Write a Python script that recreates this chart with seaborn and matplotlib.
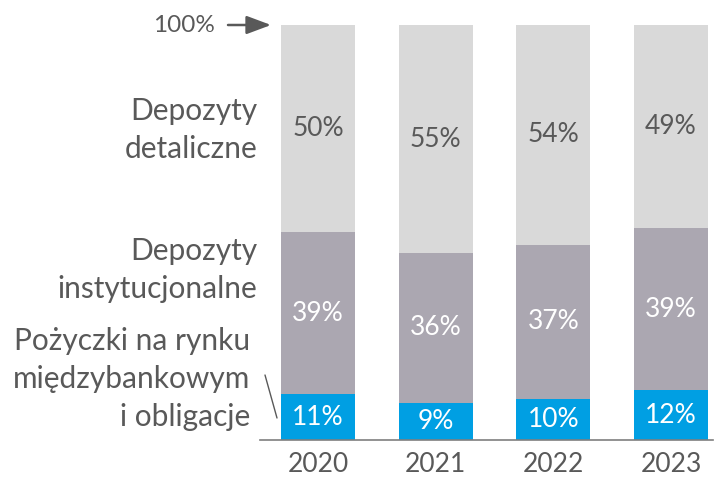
import matplotlib
matplotlib.use("Agg")
import matplotlib.pyplot as plt
import seaborn as sns
import pandas as pd

years = ["2020", "2021", "2022", "2023"]
interbank = [11, 9, 10, 12]
institutional = [39, 36, 37, 39]
retail = [50, 55, 54, 49]
total = [100, 100, 100, 100]

c_blue = "#009fe3"
c_mid = "#aba7b1"
c_light = "#d9d9d9"
c_text = "#595959"

sns.set_theme(style="white")
plt.rcParams["font.family"] = ["Lato", "DejaVu Sans"]

fig = plt.figure(figsize=(7.15, 4.8), dpi=100)
ax = fig.add_axes([260 / 715, 40 / 480, 453 / 715, 415 / 480])

df = pd.DataFrame({
    "year": years,
    "total": total,
    "cum_mid": [a + b for a, b in zip(interbank, institutional)],
    "interbank": interbank,
})

w = 0.63
sns.barplot(data=df, x="year", y="total", order=years, color=c_light, width=w,
            saturation=1, ax=ax, linewidth=0)
sns.barplot(data=df, x="year", y="cum_mid", order=years, color=c_mid, width=w,
            saturation=1, ax=ax, linewidth=0)
sns.barplot(data=df, x="year", y="interbank", order=years, color=c_blue, width=w,
            saturation=1, ax=ax, linewidth=0)

fs = 19
for i in range(len(years)):
    ax.text(i, interbank[i] / 2, f"{interbank[i]}%", ha="center", va="center",
            color="white", fontsize=fs)
    ax.text(i, interbank[i] + institutional[i] / 2, f"{institutional[i]}%", ha="center",
            va="center", color="white", fontsize=fs)
    ax.text(i, interbank[i] + institutional[i] + (100 - interbank[i] - institutional[i]) / 2,
            f"{retail[i]}%", ha="center", va="center", color=c_text, fontsize=fs)

ax.set_xlim(-0.493, 3.357)
ax.set_ylim(0, 100)
ax.set_xlabel("")
ax.set_ylabel("")
ax.set_yticks([])
ax.tick_params(axis="x", length=0, labelsize=fs, labelcolor=c_text, pad=9)
for s in ["top", "right", "left"]:
    ax.spines[s].set_visible(False)
ax.spines["bottom"].set_color("#7f7f7f")
ax.spines["bottom"].set_linewidth(1.2)

# left-side category labels
lfs = 21.5
lx = 257 / 715
fig.text(lx, 1 - 130 / 480, "Depozyty\ndetaliczne", ha="right", va="center",
         fontsize=lfs, color=c_text, linespacing=1.45)
fig.text(lx, 1 - 270 / 480, "Depozyty\ninstytucjonalne", ha="right", va="center",
         fontsize=lfs, color=c_text, linespacing=1.45)
fig.text(lx - 7 / 715, 1 - 379 / 480, "Pożyczki na rynku\nmiędzybankowym\ni obligacje",
         ha="right", va="center", fontsize=lfs, color=c_text, linespacing=1.45)

# 100% label with arrow
fig.text(215 / 715, 1 - 25 / 480, "100%", ha="right", va="center", fontsize=17.5,
         color=c_text)
ax.annotate("", xy=(271 / 715, 1 - 25 / 480), xytext=(228 / 715, 1 - 25 / 480),
            xycoords="figure fraction", textcoords="figure fraction",
            arrowprops=dict(arrowstyle="-|>,head_length=0.75,head_width=0.28",
                            color=c_text, lw=1.8, mutation_scale=20,
                            shrinkA=0, shrinkB=0),
            annotation_clip=False)

# leader line
fig.add_artist(plt.Line2D([265 / 715, 277 / 715], [1 - 375 / 480, 1 - 418 / 480],
                          color=c_text, lw=1.0))

fig.savefig("out.png", dpi=100)
